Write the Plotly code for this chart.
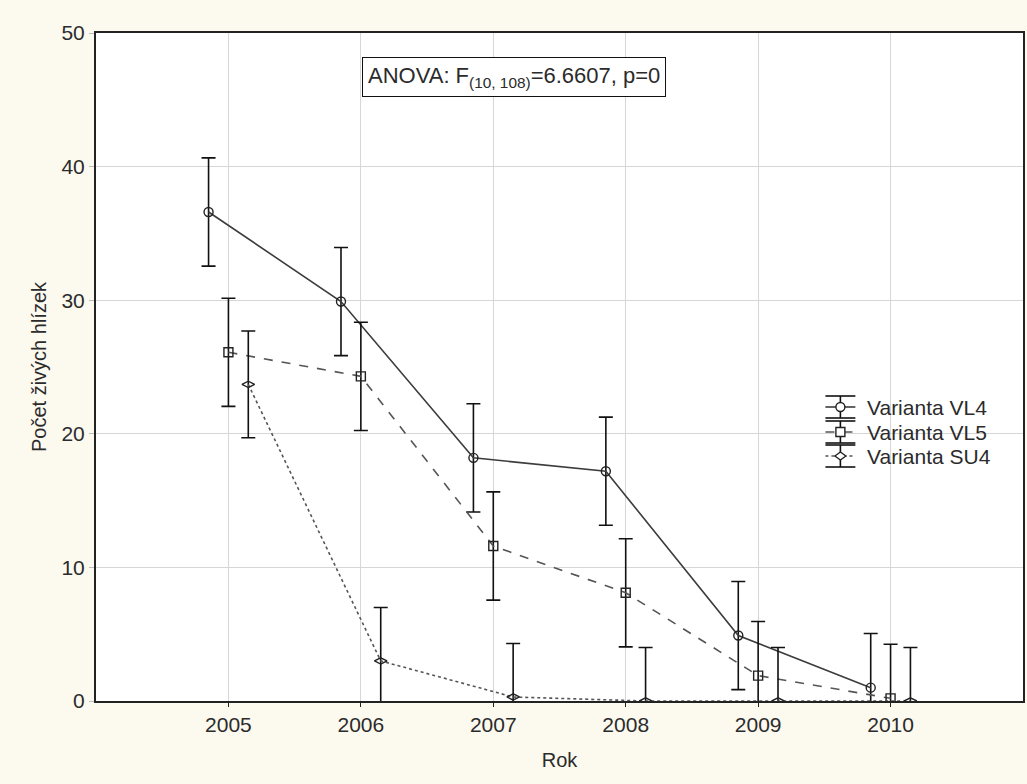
import plotly.graph_objects as go

# Survey years and mean counts of live tubers per variant
years = [2005, 2006, 2007, 2008, 2009, 2010]
vl4 = [36.6, 29.9, 18.2, 17.2, 4.9, 1.0]
vl5 = [26.1, 24.3, 11.6, 8.1, 1.9, 0.2]
su4 = [23.7, 3.0, 0.3, 0.0, 0.0, 0.0]

# Half-widths of the confidence intervals
vl4_err = [4.05, 4.05, 4.05, 4.05, 4.05, 4.05]
vl5_err = [4.05, 4.05, 4.05, 4.05, 4.05, 4.05]
su4_err = [4.0, 4.0, 4.0, 4.0, 4.0, 4.0]

names = ["Varianta VL4", "Varianta VL5", "Varianta SU4"]
offsets = [-0.15, 0.0, 0.15]
x_ticks = [2005, 2006, 2007, 2008, 2009, 2010]
y_ticks = [0, 10, 20, 30, 40, 50]

FONT = "Liberation Sans, Arial, sans-serif"
TXT = "#2b2b2b"
W, H = 1027, 784
ML, MR, MT, MB = 96, 2, 33, 83
PW, PH = W - ML - MR, H - MT - MB

styles = [
    dict(dash="solid", symbol="circle-open", color="#3c3c3c"),
    dict(dash="dash", symbol="square-open", color="#555555"),
    dict(dash="dot", symbol="diamond-wide-open", color="#555555"),
]

fig = go.Figure()
for name, vals, errs, off, st in zip(names, [vl4, vl5, su4],
                                     [vl4_err, vl5_err, su4_err], offsets, styles):
    fig.add_trace(go.Scatter(
        x=[y + off for y in years], y=vals, name=name,
        mode="lines+markers", showlegend=False,
        line=dict(color=st["color"], width=1.6, dash=st["dash"]),
        marker=dict(symbol=st["symbol"], size=9, color="#222222",
                    line=dict(width=1.4, color="#222222")),
        error_y=dict(type="data", array=errs, visible=True,
                     color="#111111", thickness=1.6, width=7),
    ))


# Legend drawn by hand so each key shows the error-bar glyph
def px(x):
    return (x - ML) / PW


def py(y):
    return (H - MB - y) / PH


key_x0, key_x1, key_xc = 827, 857, 842
row_y = [407, 432, 456]
half_bar = 11
for name, st, cy in zip(names, styles, row_y):
    line_col = st["color"]
    fig.add_shape(type="line", xref="paper", yref="paper",
                  x0=px(key_x0), x1=px(key_x1), y0=py(cy), y1=py(cy),
                  line=dict(color=line_col, width=1.6, dash=st["dash"]))
    fig.add_shape(type="line", xref="paper", yref="paper",
                  x0=px(key_xc), x1=px(key_xc), y0=py(cy - half_bar), y1=py(cy + half_bar),
                  line=dict(color="#111111", width=1.6))
    for cap in (cy - half_bar, cy + half_bar):
        fig.add_shape(type="line", xref="paper", yref="paper",
                      x0=px(key_x0), x1=px(key_x1), y0=py(cap), y1=py(cap),
                      line=dict(color="#111111", width=1.6))
    r = 4.5
    if st["symbol"].startswith("circle"):
        fig.add_shape(type="circle", xref="paper", yref="paper",
                      x0=px(key_xc - r), x1=px(key_xc + r), y0=py(cy - r), y1=py(cy + r),
                      line=dict(color="#222222", width=1.4), fillcolor="white")
    elif st["symbol"].startswith("square"):
        fig.add_shape(type="rect", xref="paper", yref="paper",
                      x0=px(key_xc - r), x1=px(key_xc + r), y0=py(cy - r), y1=py(cy + r),
                      line=dict(color="#222222", width=1.4), fillcolor="white")
    else:
        path = "M {} {} L {} {} L {} {} L {} {} Z".format(
            px(key_xc - 5.5), py(cy), px(key_xc), py(cy - 4),
            px(key_xc + 5.5), py(cy), px(key_xc), py(cy + 4))
        fig.add_shape(type="path", xref="paper", yref="paper", path=path,
                      line=dict(color="#222222", width=1.4), fillcolor="white")
    fig.add_annotation(x=px(867), y=py(cy), xref="paper", yref="paper",
                       xanchor="left", yanchor="middle", showarrow=False,
                       text=name, font=dict(family=FONT, size=21, color=TXT))

fig.add_annotation(
    x=px(515), y=py(77), xref="paper", yref="paper",
    xanchor="center", yanchor="middle",
    text="ANOVA: F<sub>(10, 108)</sub>=6.6607, p=0",
    showarrow=False, font=dict(family=FONT, size=22, color=TXT),
    bordercolor="#111111", borderwidth=1, borderpad=5, bgcolor="white",
)

fig.update_layout(
    width=W, height=H,
    margin=dict(l=ML, r=MR, t=MT, b=MB),
    paper_bgcolor="#fcf9ef", plot_bgcolor="white",
    font=dict(family=FONT, size=21, color=TXT),
    showlegend=False,
    xaxis=dict(range=[2004, 2011], tickvals=x_ticks,
               showgrid=True, gridcolor="#d6d6d6", gridwidth=1,
               showline=True, linecolor="#222222", linewidth=2, mirror=True,
               ticks="outside", ticklen=4, tickcolor="#222222",
               zeroline=False,
               title=dict(text="Rok", font=dict(size=20), standoff=18)),
    yaxis=dict(range=[0, 50], tickvals=y_ticks,
               showgrid=True, gridcolor="#d6d6d6", gridwidth=1,
               showline=True, linecolor="#222222", linewidth=2, mirror=True,
               ticks="outside", ticklen=5, tickcolor="#bbbbbb",
               zeroline=False,
               title=dict(text="Počet živých hlízek", font=dict(size=20), standoff=9)),
)

fig.write_html("out.html")
